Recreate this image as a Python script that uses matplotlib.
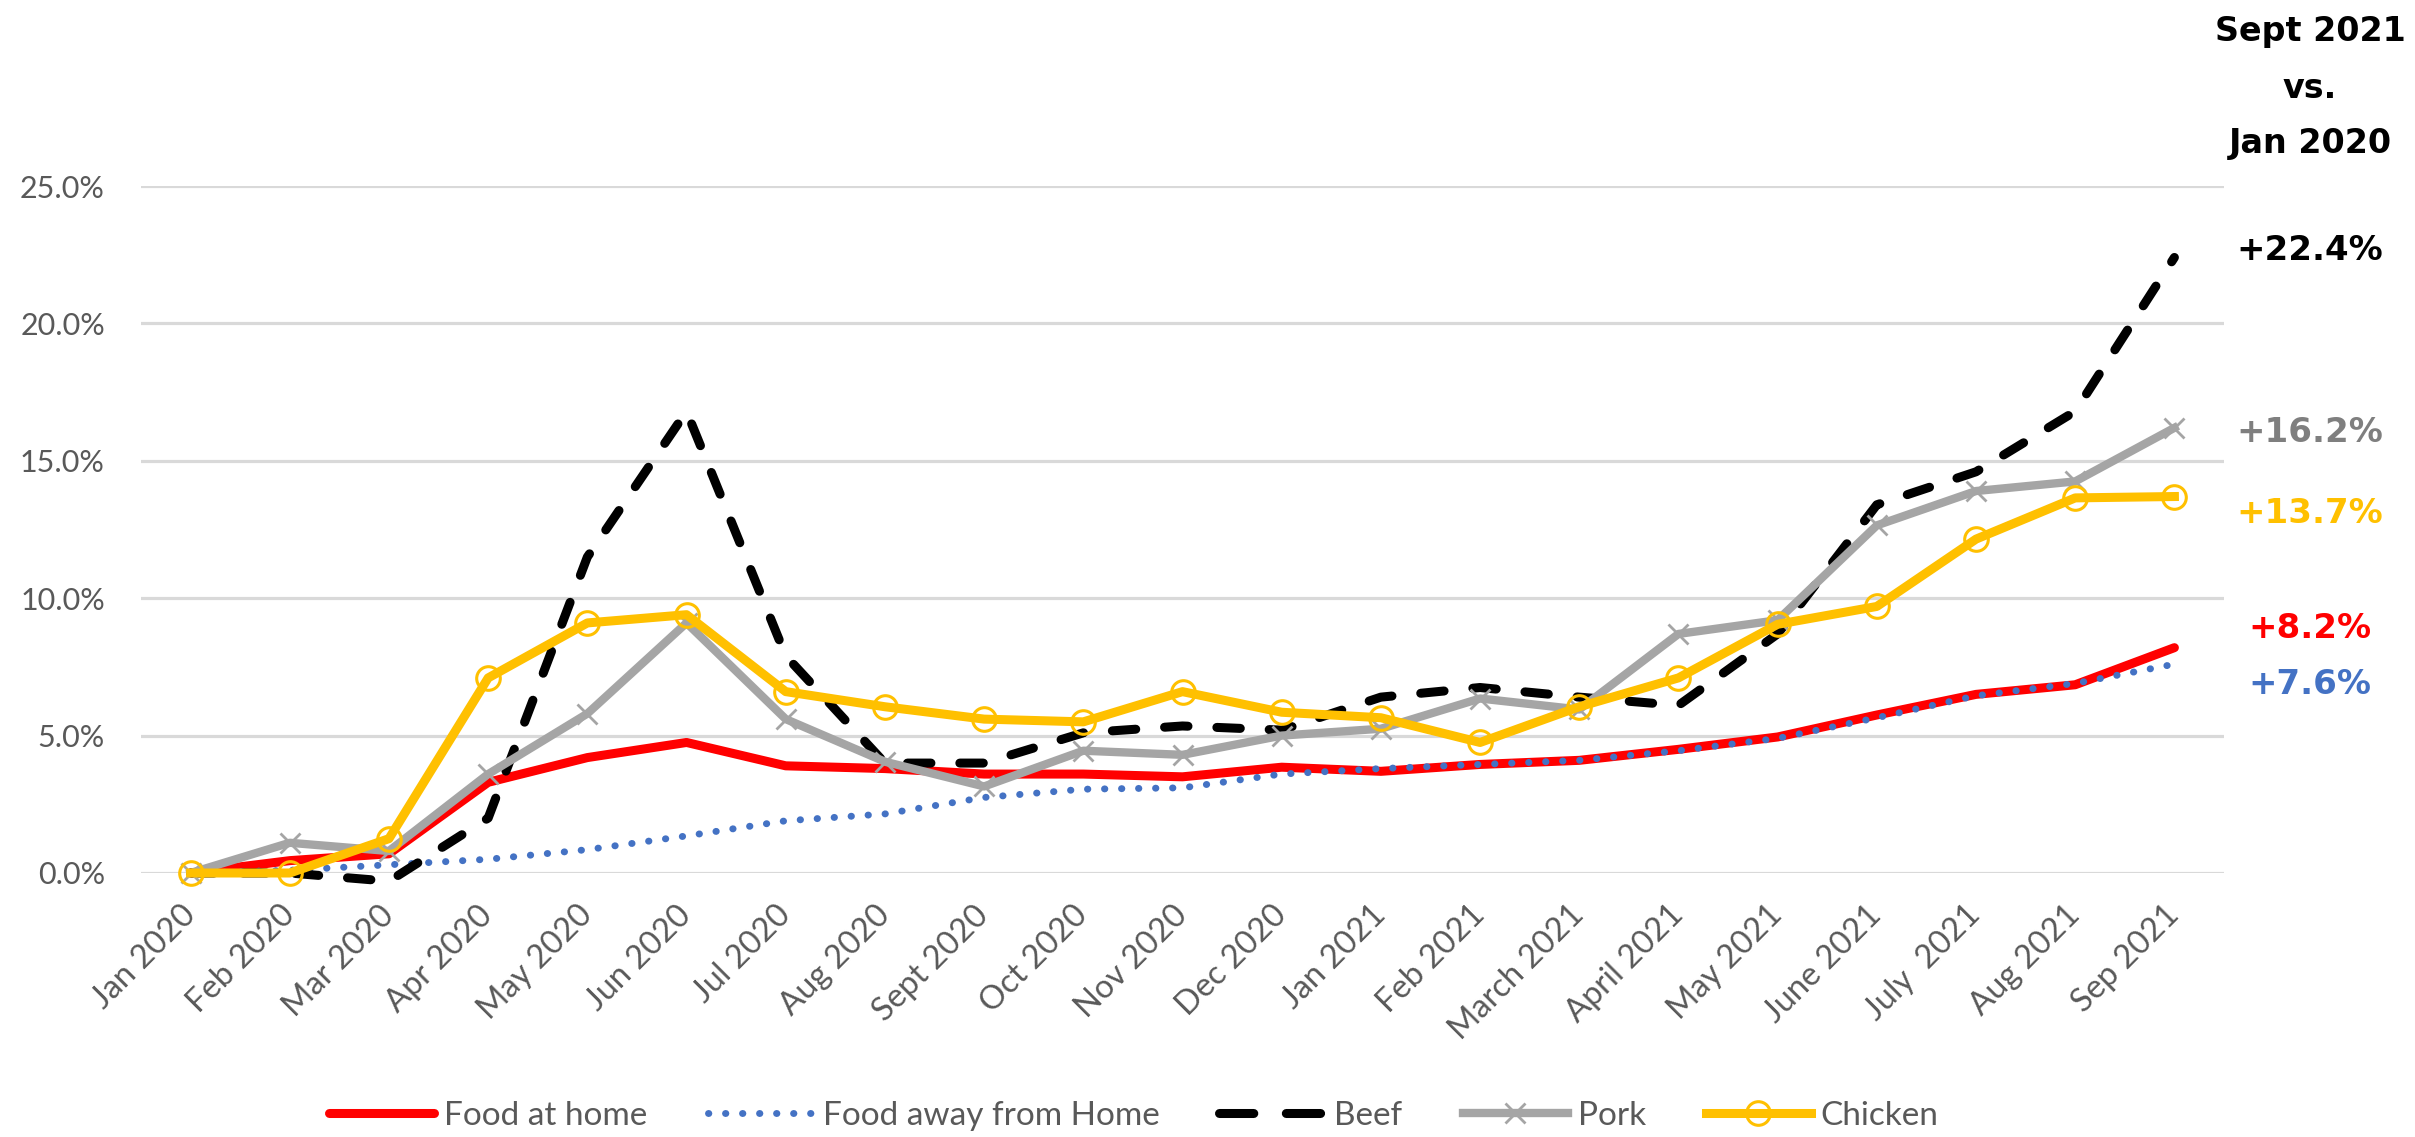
import matplotlib
matplotlib.use("Agg")
import matplotlib.pyplot as plt
from matplotlib.ticker import FuncFormatter

months = ["Jan 2020", "Feb 2020", "Mar 2020", "Apr 2020", "May 2020", "Jun 2020",
          "Jul 2020", "Aug 2020", "Sept 2020", "Oct 2020", "Nov 2020", "Dec 2020",
          "Jan 2021", "Feb 2021", "March 2021", "April 2021", "May 2021", "June 2021",
          "July  2021", "Aug 2021", "Sep 2021"]

food_at_home = [0.0, 0.45, 0.7, 3.3, 4.2, 4.75, 3.9, 3.8, 3.6, 3.6, 3.5, 3.85,
                3.7, 3.95, 4.1, 4.5, 4.95, 5.75, 6.5, 6.85, 8.2]
food_away = [0.0, 0.1, 0.3, 0.5, 0.85, 1.35, 1.9, 2.15, 2.75, 3.05, 3.1, 3.6,
             3.8, 3.95, 4.1, 4.45, 4.9, 5.65, 6.45, 6.9, 7.6]
beef = [0.0, 0.0, -0.3, 2.0, 11.5, 16.8, 7.9, 4.0, 4.0, 5.1, 5.35, 5.2,
        6.4, 6.75, 6.4, 6.1, 8.7, 13.4, 14.6, 16.8, 22.4]
pork = [0.0, 1.1, 0.8, 3.6, 5.8, 9.1, 5.6, 4.05, 3.15, 4.45, 4.3, 5.0,
        5.25, 6.35, 5.95, 8.7, 9.2, 12.65, 13.9, 14.25, 16.2]
chicken = [0.0, 0.0, 1.25, 7.1, 9.1, 9.4, 6.6, 6.05, 5.6, 5.5, 6.6, 5.85,
           5.65, 4.75, 6.05, 7.1, 9.05, 9.7, 12.15, 13.65, 13.7]

yticks = [0, 5, 10, 15, 20, 25]
header_lines = ["Sept 2021", "vs.", "Jan 2020"]
end_labels = ["+22.4%", "+16.2%", "+13.7%", "+8.2%", "+7.6%"]
end_colors = ["#000000", "#7F7F7F", "#FFC000", "#FF0000", "#4472C4"]

W, H = 2415, 1137
fig = plt.figure(figsize=(W / 100, H / 100), dpi=100)
fig.patch.set_facecolor("white")

ax_l, ax_r, ax_t, ax_b = 141, 2224, 186, 873
ax = fig.add_axes([ax_l / W, 1 - ax_b / H, (ax_r - ax_l) / W, (ax_b - ax_t) / H])

x = list(range(len(months)))
lf = "Lato"

ax.plot(x, food_at_home, color="#FF0000", lw=6.5, solid_capstyle="round",
        solid_joinstyle="round", label="Food at home", clip_on=False, zorder=3)
ax.plot(x, food_away, color="#4472C4", lw=5, linestyle=(0, (0.05, 2.4)),
        dash_capstyle="round", label="Food away from Home", clip_on=False, zorder=4)
ax.plot(x, beef, color="#000000", lw=6.5, linestyle=(0, (2.6, 3.2)),
        dash_capstyle="round", label="Beef", clip_on=False, zorder=5)
ax.plot(x, pork, color="#A5A5A5", lw=6, marker="x", markersize=15, mew=2,
        solid_joinstyle="round", label="Pork", clip_on=False, zorder=6)
ax.plot(x, chicken, color="#FFC000", lw=6.5, marker="o", markersize=17, mew=2.2,
        markerfacecolor="none", solid_joinstyle="round", label="Chicken",
        clip_on=False, zorder=7)

ax.set_xlim(-0.5, len(months) - 0.5)
ax.set_ylim(0, 25)
ax.set_yticks(yticks)
ax.yaxis.set_major_formatter(FuncFormatter(lambda v, p: f"{v:.1f}%"))
ax.grid(axis="y", color="#D9D9D9", lw=2.3, zorder=0)
ax.set_axisbelow(True)
for s in ax.spines.values():
    s.set_visible(False)
ax.tick_params(axis="y", length=0, pad=26, labelsize=22, labelcolor="#595959")
ax.tick_params(axis="x", length=0, pad=27, labelsize=23.5, labelcolor="#595959")
for t in ax.get_yticklabels():
    t.set_fontfamily(lf)
ax.set_xticks(x)
ax.set_xticklabels(months, rotation=45, ha="right", va="center",
                   rotation_mode="anchor", fontfamily=lf)

leg = fig.legend(loc="center", bbox_to_anchor=(1134 / W, 1 - 1116 / H), ncol=5,
                 frameon=False, prop={"family": lf, "size": 24}, handlelength=3.15,
                 handletextpad=0.3, columnspacing=1.8)
for t in leg.get_texts():
    t.set_color("#595959")
beef_handle = leg.legend_handles[2]
beef_handle.set_linestyle((0, (3.8, 3.6)))

xc = 2310 / W
for txt, yy in zip(header_lines, [31, 88, 143]):
    fig.text(xc, 1 - yy / H, txt, ha="center", va="center", fontsize=24,
             fontweight="bold", color="black", fontfamily="DejaVu Sans")
for txt, col, yy in zip(end_labels, end_colors, [251, 433, 514, 628, 685]):
    fig.text(xc, 1 - yy / H, txt, ha="center", va="center", fontsize=24.5,
             fontweight="bold", color=col, fontfamily="DejaVu Sans")

fig.savefig("out.png", dpi=100)
